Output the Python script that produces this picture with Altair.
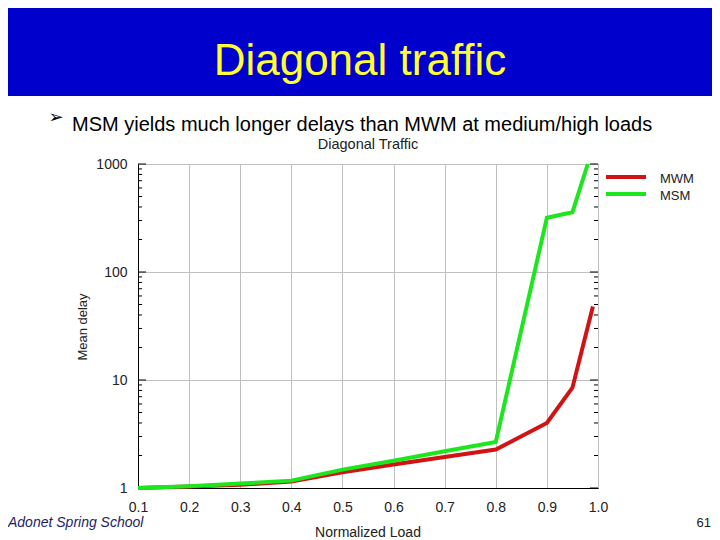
import altair as alt
import pandas as pd

# ---- data ----
load_mwm = [0.1, 0.2, 0.3, 0.4, 0.5, 0.6, 0.7, 0.8, 0.9, 0.95, 0.99]
delay_mwm = [1.0, 1.03, 1.07, 1.15, 1.40, 1.65, 1.94, 2.27, 4.0, 8.5, 48]
load_msm = [0.1, 0.2, 0.3, 0.4, 0.5, 0.6, 0.7, 0.8, 0.9, 0.95, 0.98]
delay_msm = [1.0, 1.04, 1.10, 1.17, 1.48, 1.79, 2.19, 2.67, 318, 358, 1000]
series = ["MWM", "MSM"]
colors = ["#d01414", "#1ee61e"]
x_ticks = [0.1, 0.2, 0.3, 0.4, 0.5, 0.6, 0.7, 0.8, 0.9, 1.0]
y_ticks = [1, 10, 100, 1000]
y_minor = [2, 3, 4, 5, 6, 7, 8, 9, 20, 30, 40, 50, 60, 70, 80, 90,
           200, 300, 400, 500, 600, 700, 800, 900]

FONT = "Liberation Sans"
W, H = 460, 324

df_mwm = pd.DataFrame({"load": load_mwm, "delay": delay_mwm, "series": series[0]})
df_msm = pd.DataFrame({"load": load_msm, "delay": delay_msm, "series": series[1]})
df_major = pd.DataFrame({"delay": y_ticks})
df_minor = pd.DataFrame({"delay": y_minor})

x_scale = alt.Scale(domain=[0.1, 1.0], nice=False, zero=False)
y_scale = alt.Scale(type="log", domain=[1, 1000], nice=False)
c_scale = alt.Scale(domain=series, range=colors)

x_axis = alt.Axis(values=x_ticks, format=".1f", title=None, grid=True,
                  gridColor="#c0c0c0", gridWidth=1, tickSize=0,
                  labelFontSize=14, labelPadding=12, labelFont=FONT,
                  labelFlush=False, labelOverlap=False,
                  labelColor="#222222", domainColor="black")
y_axis = alt.Axis(values=y_ticks, format="d", title=None, grid=True,
                  gridColor="#c0c0c0", gridWidth=1, tickSize=0,
                  labelFontSize=14, labelPadding=11, labelFont=FONT,
                  labelFlush=False, labelOverlap=False,
                  labelColor="#222222", domainColor="black")


def line(df):
    return alt.Chart(df).mark_line(strokeWidth=4).encode(
        x=alt.X("load:Q", scale=x_scale, axis=x_axis),
        y=alt.Y("delay:Q", scale=y_scale, axis=y_axis),
        color=alt.Color("series:N", scale=c_scale, legend=None),
    )


def ticks(df, x0, x1):
    return alt.Chart(df).mark_rule(color="black", strokeWidth=1).encode(
        y=alt.Y("delay:Q", scale=y_scale, axis=y_axis),
        x=alt.value(x0), x2=alt.value(x1),
    )


def txt(s, x, y, size, **kw):
    return alt.Chart(alt.Data(values=[{"t": s}])).mark_text(
        font=kw.pop("font", FONT), fontSize=size, **kw
    ).encode(text="t:N", x=alt.value(x), y=alt.value(y))


one = alt.Data(values=[{}])
banner = alt.Chart(one).mark_rect(color="#0000cc").encode(
    x=alt.value(-130), x2=alt.value(574), y=alt.value(-156), y2=alt.value(-68))

legend_lines = [
    alt.Chart(one).mark_rule(strokeWidth=4, color=colors[i]).encode(
        x=alt.value(468), x2=alt.value(508), y=alt.value(13 + 17 * i))
    for i in range(2)
]
legend_text = [
    txt(series[i], 522, 15 + 17 * i, 13, align="left", baseline="middle", color="#222222")
    for i in range(2)
]

chart = alt.layer(
    banner,
    ticks(df_minor, 0, 4), ticks(df_major, 0, 8),
    ticks(df_minor, W - 4, W), ticks(df_major, W - 8, W),
    line(df_mwm),
    line(df_msm),
    *legend_lines, *legend_text,
    txt("Diagonal traffic", 222, -102, 44, align="center", color="#ffff33"),
    txt("\u27a2", -82, -46, 18, align="center", baseline="middle", font="DejaVu Sans", color="black"),
    txt("MSM yields much longer delays than MWM at medium/high loads", -66, -39, 20,
        align="left", color="black"),
    txt("Diagonal Traffic", 230, -19, 14.5, align="center", color="#222222"),
    txt("Mean delay", -55, 163, 13, align="center", baseline="middle", angle=270, color="#222222"),
    txt("Normalized Load", 230, 369, 14, align="center", color="#222222"),
    txt("Adonet Spring School", -130, 359, 14, align="left", fontStyle="italic", color="#1c1c6c"),
    txt("61", 573, 359, 13, align="right", color="#222222"),
).properties(
    width=W, height=H,
    autosize=alt.AutoSizeParams(type="none"),
    padding={"left": 130, "top": 156, "right": 114, "bottom": 52},
    background="white",
).configure_view(stroke="black", strokeWidth=1)

chart.save("out.html", embed_options={"renderer": "svg", "actions": False})
